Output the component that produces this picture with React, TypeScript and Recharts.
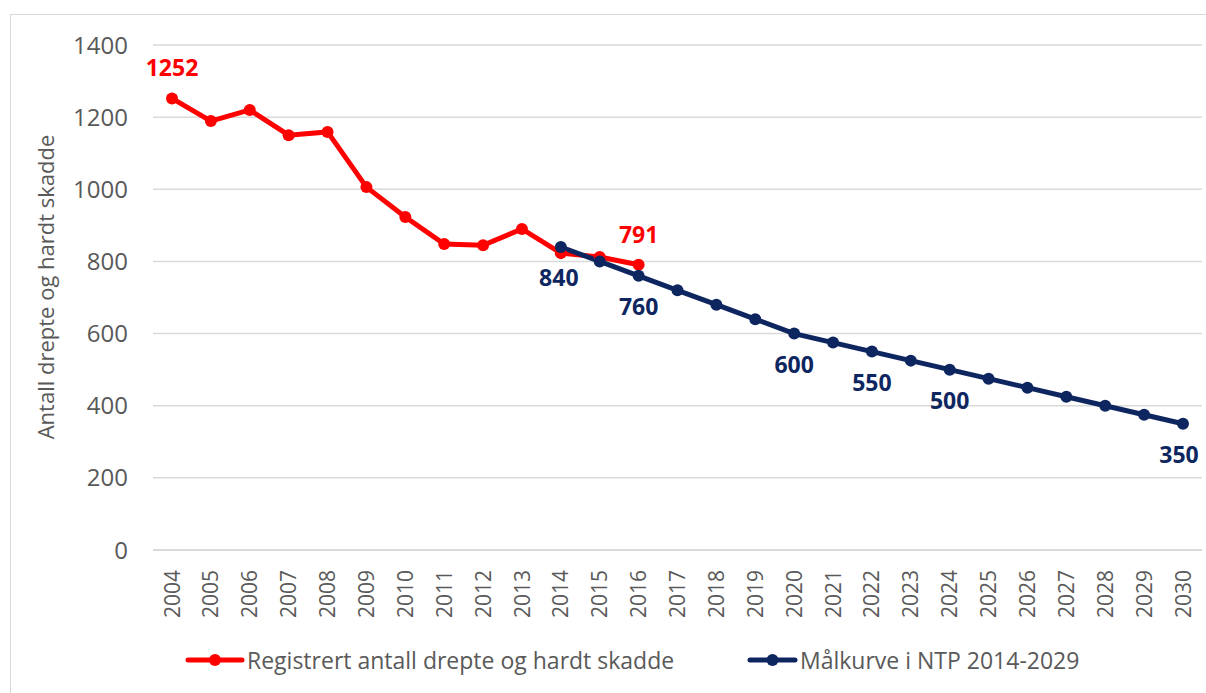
import React from 'react';
import { LineChart, Line, XAxis, YAxis, CartesianGrid, LabelList } from 'recharts';

// Årstall på x-aksen
const years = [
  '2004', '2005', '2006', '2007', '2008', '2009', '2010', '2011', '2012',
  '2013', '2014', '2015', '2016', '2017', '2018', '2019', '2020', '2021',
  '2022', '2023', '2024', '2025', '2026', '2027', '2028', '2029', '2030',
];

// Registrert antall drepte og hardt skadde (2004-2016)
const registrertYears = years.slice(0, 13);
const registrert = [1252, 1189, 1220, 1150, 1159, 1006, 923, 848, 845, 890, 823, 812, 791];

// Målkurve i NTP 2014-2029 (2014-2030)
const malkurveYears = years.slice(10);
const malkurve = [840, 800, 760, 720, 680, 640, 600, 575, 550, 525, 500, 475, 450, 425, 400, 375, 350];

const yTicks = [0, 200, 400, 600, 800, 1000, 1200, 1400];

// which points get a value label
const registrertLabelled = ['2004', '2016'];
const malkurveLabelled = ['2014', '2016', '2020', '2022', '2024', '2030'];

const RED = '#FF0000';
const NAVY = '#0E2660';
const GREY = '#595959';
const FONT = '"Open Sans", sans-serif';

const data = years.map(year => {
  const ri = registrertYears.indexOf(year);
  const mi = malkurveYears.indexOf(year);
  return {
    year,
    registrert: ri >= 0 ? registrert[ri] : null,
    malkurve: mi >= 0 ? malkurve[mi] : null,
  };
});

const XTick = (props: any) => {
  const { x, y, payload } = props;
  const ty = y + 12;
  return (
    <text
      x={x}
      y={ty}
      transform={`rotate(-90 ${x} ${ty})`}
      textAnchor="end"
      dy="0.36em"
      fill={GREY}
      fontSize={21}
      fontFamily={FONT}
    >
      {payload.value}
    </text>
  );
};

const YLabel = (props: any) => (
  <text
    x={45}
    y={287}
    transform="rotate(-90 45 287)"
    textAnchor="middle"
    dominantBaseline="central"
    fill={GREY}
    fontSize={22}
    fontFamily={FONT}
  >
    Antall drepte og hardt skadde
  </text>
);

const makeLabel = (labelled: string[], color: string, above: boolean, dxFor?: Record<string, number>) => (props: any) => {
  const { x, y, value, index } = props;
  const year = years[index];
  if (value == null || !labelled.includes(year)) return null;
  const dx = dxFor && dxFor[year] ? dxFor[year] : 0;
  return (
    <text
      x={x + dx}
      y={above ? y - 31 : y + 30}
      textAnchor="middle"
      dominantBaseline="central"
      fill={color}
      fontSize={23}
      fontWeight={700}
      fontFamily={FONT}
    >
      {value}
    </text>
  );
};

const LegendItem: React.FC<{ color: string; text: string; left: number; icon: number }> = ({ color, text, left, icon }) => (
  <div style={{ position: 'absolute', left, top: 0, display: 'flex', alignItems: 'center', whiteSpace: 'nowrap' }}>
    <svg width={icon} height={14}>
      <line x1={3} y1={7} x2={icon - 3} y2={7} stroke={color} strokeWidth={5} strokeLinecap="round" />
      <circle cx={icon / 2} cy={7} r={6} fill={color} />
    </svg>
    <span style={{ color: GREY, fontSize: 23, fontFamily: FONT, marginLeft: 2 }}>{text}</span>
  </div>
);

export default function App() {
  return (
    <div style={{ position: 'absolute', left: 0, top: 0, width: 1206, height: 693, background: '#fff', overflow: 'hidden' }}>
      <div
        style={{
          position: 'absolute', left: 10, top: 14, width: 1210, height: 700,
          border: '1px solid #D9D9D9', boxSizing: 'border-box',
        }}
      />
      <div style={{ position: 'absolute', left: 0, top: 0 }}>
        <LineChart width={1206} height={693} data={data} margin={{ top: 45, right: 4, bottom: 63, left: 0 }}>
          <CartesianGrid vertical={false} stroke="#D9D9D9" strokeWidth={1.5} />
          <XAxis
            dataKey="year"
            interval={0}
            height={80}
            padding={{ left: 19, right: 19 }}
            tick={<XTick />}
            tickLine={false}
            axisLine={{ stroke: '#D9D9D9', strokeWidth: 1.5 }}
          />
          <YAxis
            width={153}
            domain={[0, 1400]}
            ticks={yTicks}
            tickLine={false}
            axisLine={false}
            tickSize={0}
            tickMargin={25}
            tick={{ fill: GREY, fontSize: 24, fontFamily: FONT }}
            label={<YLabel />}
          />
          <Line
            type="linear"
            dataKey="registrert"
            stroke={RED}
            strokeWidth={5}
            dot={{ r: 6, fill: RED, stroke: RED, strokeWidth: 0 }}
            connectNulls={false}
            isAnimationActive={false}
          >
            <LabelList dataKey="registrert" content={makeLabel(registrertLabelled, RED, true)} />
          </Line>
          <Line
            type="linear"
            dataKey="malkurve"
            stroke={NAVY}
            strokeWidth={5}
            dot={{ r: 6, fill: NAVY, stroke: NAVY, strokeWidth: 0 }}
            connectNulls={false}
            isAnimationActive={false}
          >
            <LabelList dataKey="malkurve" content={makeLabel(malkurveLabelled, NAVY, false, { '2014': -2, '2030': -4 })} />
          </Line>
        </LineChart>
      </div>
      <div style={{ position: 'absolute', left: 0, top: 644, width: 1206, height: 30 }}>
        <LegendItem color={RED} text="Registrert antall drepte og hardt skadde" left={185} icon={60} />
        <LegendItem color={NAVY} text="Målkurve i NTP 2014-2029" left={747} icon={51} />
      </div>
    </div>
  );
}
